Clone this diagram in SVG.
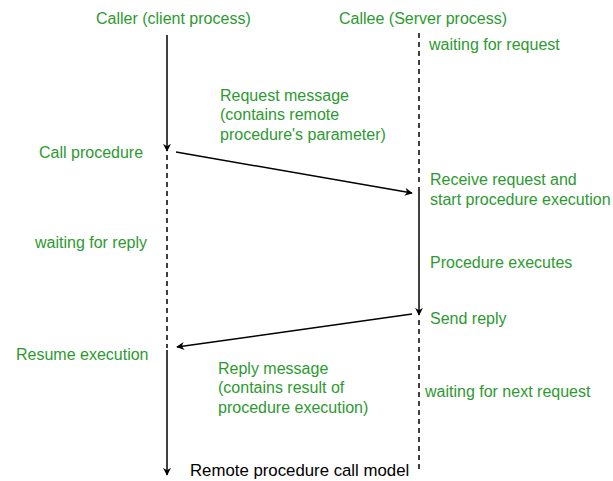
<svg xmlns="http://www.w3.org/2000/svg" width="613" height="481" viewBox="0 0 613 481">
  <defs>
    <marker id="arrow" viewBox="0 0 10 10" refX="9" refY="5" markerWidth="8" markerHeight="8" markerUnits="userSpaceOnUse" orient="auto">
      <path d="M0,0 L10,5 L0,10 L3,5 Z" fill="#000"/>
    </marker>
    <style>
      text { font-family: "Liberation Sans", Arial, sans-serif; font-size: 16px; }
      .g { fill: #2c9a30; }
      .k { fill: #000; font-size: 16.8px; }
      .solid { stroke: #000; stroke-width: 1.5; fill: none; }
      .dash { stroke: #000; stroke-width: 1.5; fill: none; stroke-dasharray: 5 4; }
    </style>
  </defs>
  <rect width="613" height="481" fill="#fff"/>

  <g id="connectors">
    <!-- caller lifeline -->
    <line class="solid" x1="167" y1="35" x2="167" y2="151" marker-end="url(#arrow)"/>
    <line class="dash" x1="167" y1="155" x2="167" y2="348"/>
    <line class="solid" x1="167" y1="350" x2="167" y2="475" marker-end="url(#arrow)"/>
    <!-- callee lifeline -->
    <line class="dash" x1="419" y1="33" x2="419" y2="185"/>
    <line class="solid" x1="419" y1="187" x2="419" y2="315" marker-end="url(#arrow)"/>
    <line class="dash" x1="419" y1="320" x2="419" y2="472"/>
    <!-- messages -->
    <line class="solid" x1="176" y1="152" x2="412" y2="193" marker-end="url(#arrow)"/>
    <line class="solid" x1="412" y1="314" x2="177" y2="347" marker-end="url(#arrow)"/>
  </g>

  <g id="caller"><text class="g" x="96" y="24">Caller (client process)</text></g>
  <g id="callee"><text class="g" x="339" y="24">Callee (Server process)</text></g>
  <g id="wait-request"><text class="g" x="429" y="50">waiting for request</text></g>
  <g id="request-message">
    <text class="g" x="220" y="101">Request message</text>
    <text class="g" x="220" y="120">(contains remote</text>
    <text class="g" x="220" y="140">procedure's parameter)</text>
  </g>
  <g id="call-procedure"><text class="g" x="39" y="158">Call procedure</text></g>
  <g id="receive-request">
    <text class="g" x="430" y="185">Receive request and</text>
    <text class="g" x="430" y="205">start procedure execution</text>
  </g>
  <g id="wait-reply"><text class="g" x="35" y="248">waiting for reply</text></g>
  <g id="procedure-executes"><text class="g" x="430" y="268">Procedure executes</text></g>
  <g id="send-reply"><text class="g" x="430" y="324">Send reply</text></g>
  <g id="resume-execution"><text class="g" x="16" y="360">Resume execution</text></g>
  <g id="reply-message">
    <text class="g" x="218" y="374">Reply message</text>
    <text class="g" x="218" y="393">(contains result of</text>
    <text class="g" x="218" y="413">procedure execution)</text>
  </g>
  <g id="wait-next"><text class="g" x="425" y="397">waiting for next request</text></g>
  <g id="caption"><text class="k" x="190" y="476">Remote procedure call model</text></g>
</svg>
